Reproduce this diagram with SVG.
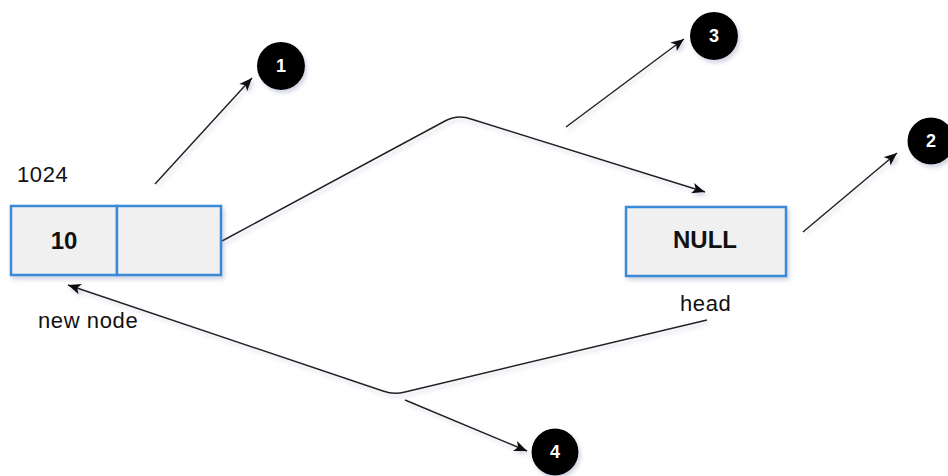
<svg xmlns="http://www.w3.org/2000/svg" width="948" height="476" viewBox="0 0 948 476">
  <defs>
    <filter id="sh" x="-20%" y="-20%" width="140%" height="160%">
      <feDropShadow dx="2" dy="3" stdDeviation="2" flood-color="#7a7fa8" flood-opacity="0.35"/>
    </filter>
    <marker id="arr" viewBox="0 0 12 10" refX="12" refY="5" markerWidth="13" markerHeight="11" markerUnits="userSpaceOnUse" orient="auto">
      <path d="M0,0 L12,5 L0,10 L3,5 z" fill="#111"/>
    </marker>
    <style>
      .box { fill: #f0f0f0; stroke: #3b8ad8; stroke-width: 2.5; }
      .edge { fill: none; stroke: #222; stroke-width: 1.5; marker-end: url(#arr); }
      .lbl { font-family: "Liberation Sans", Arial, sans-serif; font-size: 22px; letter-spacing: 0.6px; fill: #111; }
      .val { font-family: "Liberation Sans", Arial, sans-serif; font-size: 24px; font-weight: bold; fill: #111; text-anchor: middle; }
      .badge { fill: #000; }
      .num { font-family: "Liberation Sans", Arial, sans-serif; font-size: 18px; font-weight: bold; fill: #fff; text-anchor: middle; }
    </style>
  </defs>
  <rect width="948" height="476" fill="#fff"/>

  <g id="connectors" filter="url(#sh)">
    <path class="edge" d="M222,241 L445,121 Q458,114 471,119 L705,192"/>
    <path class="edge" d="M707,320 L405,392 Q394,395 383,391 L68,285"/>
    <path class="edge" d="M155,184 L252,78"/>
    <path class="edge" d="M566,127 L684,39"/>
    <path class="edge" d="M803,232 L897,153"/>
    <path class="edge" d="M405,400 L527,451"/>
  </g>

  <g id="new-node">
    <g filter="url(#sh)">
      <rect class="box" x="11" y="206" width="106" height="69"/>
      <rect class="box" x="117" y="206" width="104" height="69"/>
    </g>
    <text class="val" x="64" y="249">10</text>
    <text class="lbl" x="17" y="182">1024</text>
    <text class="lbl" x="38" y="328">new node</text>
  </g>

  <g id="null-node">
    <rect class="box" x="626" y="207" width="160" height="69" filter="url(#sh)"/>
    <text class="val" x="705" y="248">NULL</text>
    <text class="lbl" x="680" y="311">head</text>
  </g>

  <g id="badge-1">
    <circle class="badge" cx="281" cy="66" r="24" filter="url(#sh)"/>
    <text class="num" x="281" y="72">1</text>
  </g>
  <g id="badge-2">
    <circle class="badge" cx="931" cy="141" r="23.5" filter="url(#sh)"/>
    <text class="num" x="931" y="147">2</text>
  </g>
  <g id="badge-3">
    <circle class="badge" cx="714" cy="36" r="24" filter="url(#sh)"/>
    <text class="num" x="714" y="42">3</text>
  </g>
  <g id="badge-4">
    <circle class="badge" cx="555" cy="452" r="23.5" filter="url(#sh)"/>
    <text class="num" x="555" y="458">4</text>
  </g>
</svg>
